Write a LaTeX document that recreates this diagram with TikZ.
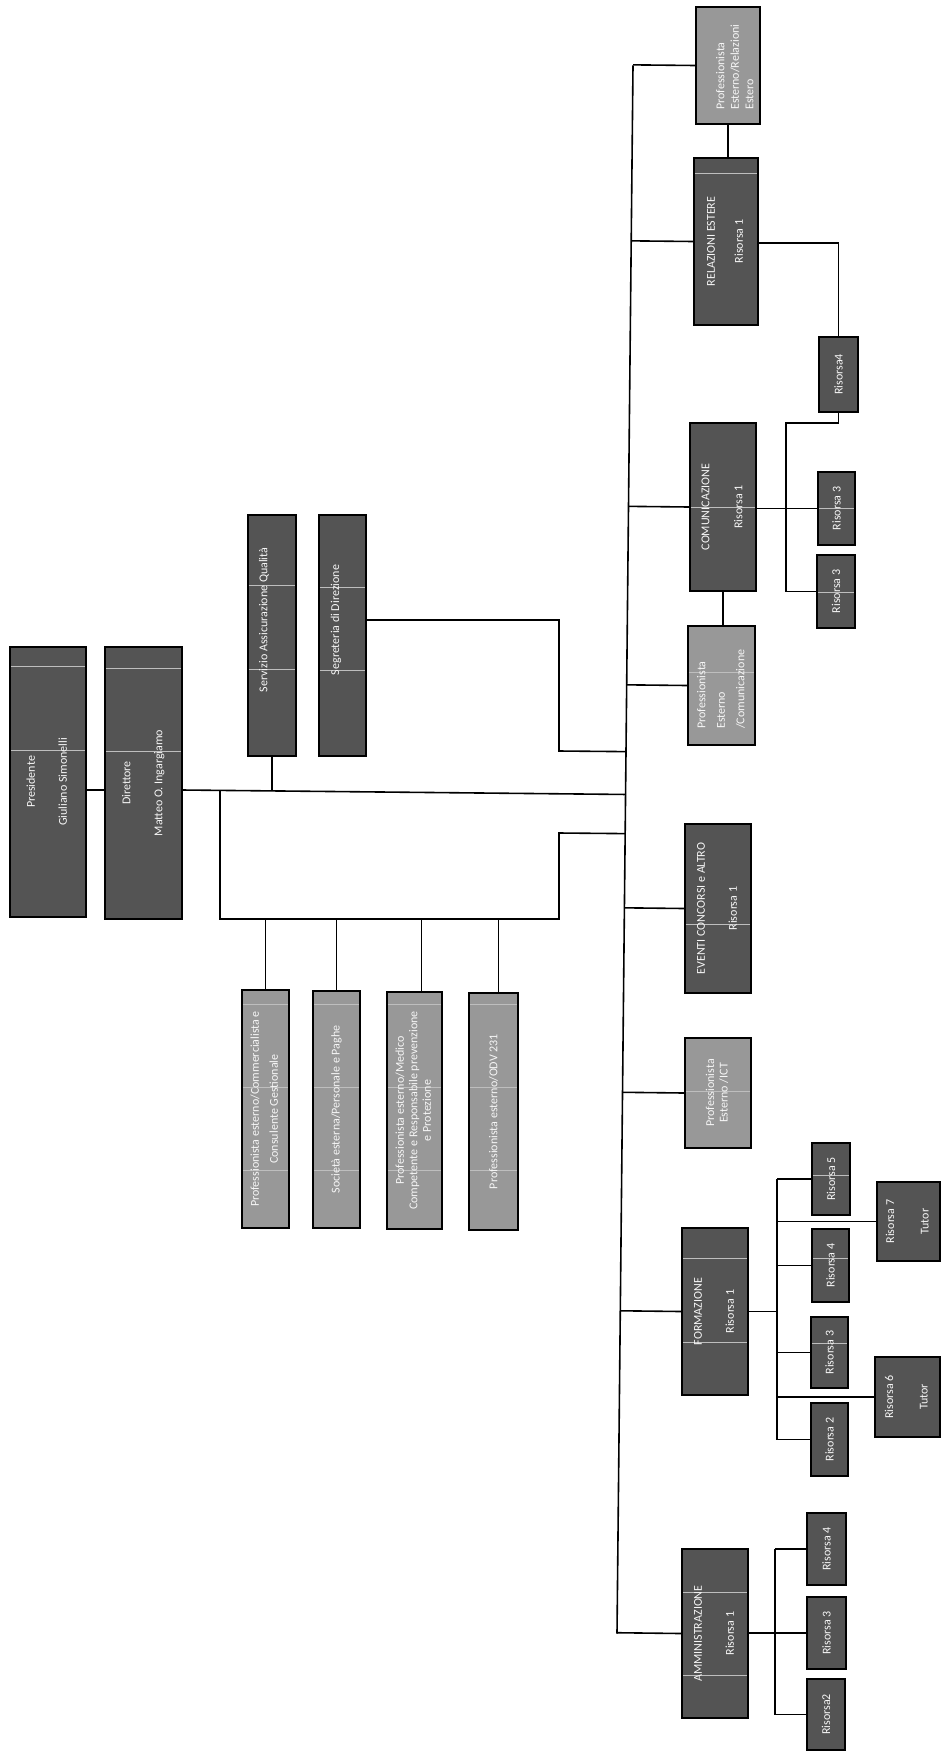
\documentclass[tikz,border=0pt]{standalone}
\usepackage{fontspec}
\setmainfont{Carlito}
\usetikzlibrary{fit,calc}
\pgfdeclarelayer{front}
\pgfsetlayers{main,front}
\definecolor{darkbox}{RGB}{84,84,84}
\definecolor{lightbox}{RGB}{152,152,152}
\definecolor{divc}{RGB}{190,190,190}
\definecolor{txtc}{RGB}{246,246,246}
\newcommand{\rone}[1]{\rotatebox{90}{#1}}
\newcommand{\rtwo}[3][17.5pt]{\rotatebox{90}{\begin{tabular}{@{}c@{}}#2\\[#1]#3\end{tabular}}}
\newcommand{\dv}[2]{\draw[div] (#1.west |- 0,#2) -- (#1.east |- 0,#2);}
\newcommand{\bx}[5]{\node[#1, fit={(#3) (#4)}] (#2) {};
  \begin{pgfonlayer}{front}\node[txt] at (#2.center) {#5};\end{pgfonlayer}}
\newcommand{\tx}[2]{\begin{pgfonlayer}{front}\node[txt,#1] {#2};\end{pgfonlayer}}
\tikzset{
  box/.style={draw=black, line width=1.9pt, inner sep=0pt},
  dark/.style={box, fill=darkbox},
  light/.style={box, fill=lightbox},
  conn/.style={draw=black, line width=1.6pt},
  div/.style={draw=divc, line width=0.6pt, shorten <=1.8pt, shorten >=1.8pt},
  txt/.style={inner sep=0pt, text=txtc, font=\fontsize{12}{14.5}\selectfont},
}
\begin{document}
\begin{tikzpicture}[x=1pt,y=-1pt]
\useasboundingbox (0,0) rectangle (941,1753);
\fill[white] (0,0) rectangle (941,1753);

% ---- boxes (left part)
\bx{dark}{pres}{10,647}{86,917}{\rtwo{Presidente}{Giuliano Simonelli}}
\bx{dark}{dir}{105,647}{182,919}{\rtwo{Direttore}{Matteo O. Ingargiamo}}
\node[dark, fit={(248,515) (296,756)}] (saq) {};
\node[dark, fit={(319,515) (366,756)}] (seg) {};
\bx{light}{b1}{242,990}{289,1228}{\rtwo[4.5pt]{Professionista esterno/Commercialista e}{Consulente Gestionale}}
\bx{light}{b2}{313,991}{360,1228}{\rone{Società esterna/Personale e Paghe}}
\bx{light}{b3}{387,992}{442,1229}{\rotatebox{90}{\begin{tabular}{@{}c@{}}Professionista esterno/Medico\\[-1pt]Competente e Responsabile prevenzione\\[-1pt]e Protezione\end{tabular}}}
\bx{light}{b4}{469,993}{518,1230}{\rone{Professionista esterno/ODV 231}}

% ---- boxes (right part)
\node[light, fit={(696,7) (760,124)}] (relE) {};
\bx{dark}{relest}{694,158}{758,325}{\rtwo[13.5pt]{RELAZIONI ESTERE}{Risorsa 1}}
\bx{dark}{ris4}{819,337}{858,412}{\rone{Risorsa4}}
\bx{dark}{com}{690,423}{756,591}{\rtwo[18.5pt]{COMUNICAZIONE}{Risorsa 1}}
\bx{dark}{r3a}{818,472}{855,545}{\rone{Risorsa 3}}
\bx{dark}{r3b}{817,555}{855,628}{\rone{Risorsa 3}}
\node[light, fit={(688,626) (755,745)}] (pcom) {};
\bx{dark}{evt}{685,824}{751,993}{\rtwo{EVENTI CONCORSI e ALTRO}{Risorsa 1}}
\bx{light}{ict}{685,1038}{751,1148}{\rotatebox{90}{\begin{tabular}{@{}c@{}}Professionista\\[-1pt]Esterno /ICT\end{tabular}}}
\bx{dark}{form}{682,1228}{748,1395}{\rtwo{FORMAZIONE}{Risorsa 1}}
\bx{dark}{f5}{812,1143}{850,1215}{\rone{Risorsa 5}}
\bx{dark}{f7}{877,1182}{940,1261}{\rtwo[20pt]{Risorsa 7}{Tutor}}
\bx{dark}{f4}{812,1229}{849,1302}{\rone{Risorsa 4}}
\bx{dark}{f3}{811,1317}{848,1388}{\rone{Risorsa 3}}
\bx{dark}{f6}{875,1357}{940,1437}{\rtwo[20pt]{Risorsa 6}{Tutor}}
\bx{dark}{f2}{811,1403}{848,1476}{\rone{Risorsa 2}}
\bx{dark}{amm}{682,1549}{748,1718}{\rtwo{AMMINISTRAZIONE}{Risorsa 1}}
\bx{dark}{a4}{807,1513}{846,1585}{\rone{Risorsa 4}}
\bx{dark}{a3}{807,1597}{846,1669}{\rone{Risorsa 3}}
\bx{dark}{a2}{807,1679}{845,1750}{\rone{Risorsa2}}

% ---- faint dividers inside boxes (behind the texts)
\dv{pres}{666} \dv{pres}{750}
\dv{dir}{668} \dv{dir}{751}
\dv{saq}{585} \dv{saq}{669}
\dv{seg}{587} \dv{seg}{670}
\foreach \b in {b1,b2,b3,b4}{\dv{\b}{1004} \dv{\b}{1087} \dv{\b}{1170}}
\dv{relest}{173}
\dv{com}{507}
\dv{pcom}{672}
\dv{evt}{924}
\dv{ict}{1091}
\dv{form}{1258} \dv{form}{1342}
\dv{amm}{1592} \dv{amm}{1675}
\dv{r3a}{508} \dv{r3b}{592}
\dv{f5}{1175} \dv{f4}{1258} \dv{f3}{1343}

% ---- texts placed off-centre
\tx{at={(264,620)}}{\rone{Servizio Assicurazione Qualità}}
\tx{at={(336,620)}}{\rone{Segreteria di Direzione}}
\tx{anchor=south, at={(736,110)}}{\rotatebox{90}{\begin{tabular}{@{}l@{}}Professionista\\Esterno/Relazioni\\Estero\end{tabular}}}
\tx{anchor=south, at={(722,729)}}{\rotatebox{90}{\begin{tabular}{@{}l@{}}Professionista\\[5pt]Esterno\\[5pt]/Comunicazione\end{tabular}}}

% ---- trunk
\coordinate (tTop) at (633,65.5);
\coordinate (tBot) at (617,1633.5);
\draw[conn] (tTop) -- (tBot);
\foreach \b in {relE,relest,com,pcom,evt,ict,form,amm}
  \draw[conn] ($(tTop)!(\b.west)!(tBot)$) -- (\b.west);

% ---- left connectors
\coordinate (dj) at (182,790);
\coordinate (lk) at (220,790);
\coordinate (lb) at (559,919);
\coordinate (lj) at (559,833);
\coordinate (sg1) at (559,620);
\coordinate (sg2) at (559,751);
\draw[conn] (pres.east |- dj) -- (dir.west |- dj);
\draw[conn] (dj) -- ($(tTop)!(dj)!(tBot)$);
\draw[conn] (lk) |- (lb) -- (lj) -- ($(tTop)!(lj)!(tBot)$);
\draw[conn] (b1.north) -- (b1.north |- lb);
\draw[conn] (b2.north) -- (b2.north |- lb);
\draw[conn] ([xshift=7pt]b3.north) -- ([xshift=7pt]b3.north |- lb);
\draw[conn] ([xshift=5pt]b4.north) -- ([xshift=5pt]b4.north |- lb);
\draw[conn] (saq.south) -- (saq.south |- dj);
\draw[conn] (seg.east |- sg1) -- (sg1) -- (sg2) -- ($(tTop)!(sg2)!(tBot)$);

% ---- right connectors
\draw[conn] (relE.south) -- (relE.south |- relest.north);
\coordinate (re1) at (758,243);
\draw[conn] (re1) -| (ris4.north);
\coordinate (cb) at (786,423);
\draw[conn] (ris4.south) |- (cb) |- (r3b.west);
\draw[conn] (com.east |- r3a.west) -- (r3a.west);
\draw[conn] (com.south) -- (com.south |- pcom.north);

\coordinate (fb) at (777,0);
\draw[conn] (fb |- f5.west) -- (fb |- f2.west);
\draw[conn] (form.east) -- (form.east -| fb);
\foreach \b in {f5,f7,f4,f3,f6,f2}
  \draw[conn] (fb |- \b.west) -- (\b.west);

\coordinate (ab) at (775,0);
\draw[conn] (ab |- a4.west) -- (ab |- a2.west);
\draw[conn] (amm.east |- a3.west) -- (a3.west);
\foreach \b in {a4,a2}
  \draw[conn] (ab |- \b.west) -- (\b.west);
\end{tikzpicture}
\end{document}
